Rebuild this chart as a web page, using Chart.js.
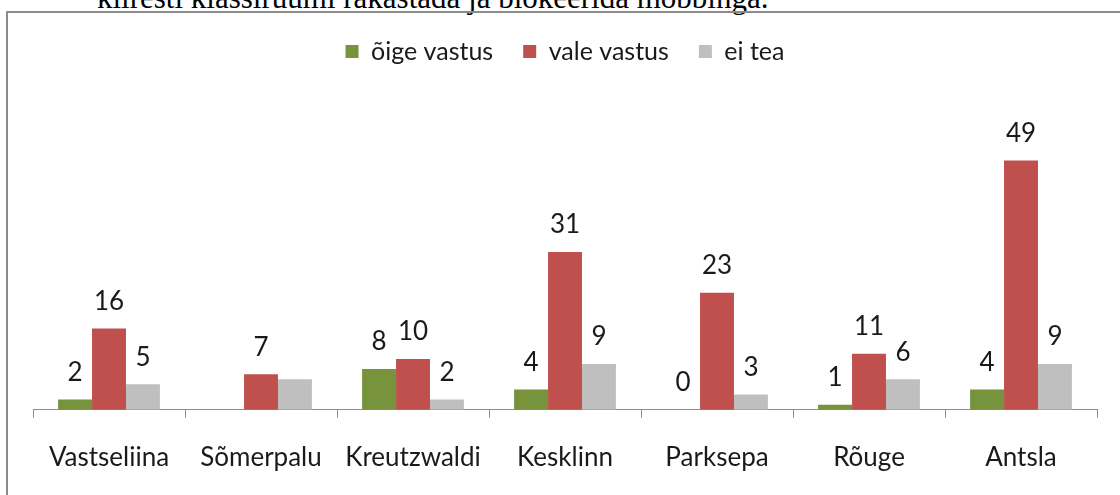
<!DOCTYPE html>
<html>
<head>
<meta charset="utf-8">
<script src="https://cdn.jsdelivr.net/npm/chart.js@4/dist/chart.umd.min.js"></script>
<style>
  html, body { margin: 0; padding: 0; background: #fff; overflow: hidden; }
  body { width: 1120px; height: 495px; position: relative; }
  #caption {
    position: absolute; left: 97px; top: -18px;
    font: 31px "Liberation Serif", serif; line-height: 31px; white-space: nowrap; color: #000;
  }
  #frame {
    position: absolute; left: 6px; top: 11px; width: 1200px; height: 600px;
    border: 2px solid #8c8c8c; box-sizing: border-box;
  }
  #chart { position: absolute; left: 0; top: 0; }
</style>
</head>
<body>
<div id="caption">kiiresti klassiruumi rakastada ja blokeerida mobbinga.</div>
<div id="frame"></div>
<canvas id="chart" width="1120" height="495"></canvas>
<script>
// --- Data ---
const schools = ["Vastseliina", "Sõmerpalu", "Kreutzwaldi", "Kesklinn", "Parksepa", "Rõuge", "Antsla"];
const correct = [2, null, 8, 4, 0, 1, 4];      // õige vastus
const wrong = [16, 7, 10, 31, 23, 11, 49];      // vale vastus
const dontKnow = [5, 6, 2, 9, 3, 6, 9];         // ei tea
// Sõmerpalu "ei tea" bar has no value label in the original
const dontKnowLabelled = [true, false, true, true, true, true, true];

const FONT = 'Lato';

// Simple value labels above each bar (no datalabels plugin available offline)
const barLabels = {
    id: 'barLabels',
    afterDatasetsDraw(chart) {
        const ctx = chart.ctx;
        ctx.save();
        ctx.font = `26px ${FONT}`;
        ctx.fillStyle = '#1a1a1a';
        ctx.textAlign = 'center';
        ctx.textBaseline = 'middle';
        chart.data.datasets.forEach((ds, di) => {
            const meta = chart.getDatasetMeta(di);
            meta.data.forEach((bar, i) => {
                const v = ds.data[i];
                if (v === null || v === undefined) return;
                if (ds.labelled && !ds.labelled[i]) return;
                ctx.fillText(String(v), bar.x, bar.y - 27);
            });
        });
        ctx.restore();
    }
};

new Chart(document.getElementById('chart'), {
    type: 'bar',
    data: {
        labels: schools,
        datasets: [
            { label: 'õige vastus', data: correct, backgroundColor: '#77933c' },
            { label: 'vale vastus', data: wrong, backgroundColor: '#c0504d' },
            { label: 'ei tea', data: dontKnow, backgroundColor: '#bfbfbf', labelled: dontKnowLabelled }
        ]
    },
    options: {
        responsive: false,
        devicePixelRatio: 1,
        animation: false,
        categoryPercentage: 0.67,
        barPercentage: 1,
        layout: { padding: { left: 33, right: 23, top: 9, bottom: -2 } },
        plugins: {
            legend: {
                position: 'top',
                labels: {
                    font: { family: FONT, size: 25 },
                    color: '#1a1a1a',
                    boxWidth: 13,
                    boxHeight: 13,
                    padding: 30
                }
            },
            tooltip: { enabled: false }
        },
        scales: {
            x: {
                grid: { drawOnChartArea: false, drawTicks: true, tickLength: 8, color: '#8c8c8c' },
                border: { display: true, color: '#8c8c8c', width: 1 },
                ticks: { font: { family: FONT, size: 26 }, color: '#1a1a1a', padding: 24 }
            },
            y: {
                display: false,
                min: 0,
                max: 66
            }
        }
    },
    plugins: [barLabels]
});
</script>
</body>
</html>
